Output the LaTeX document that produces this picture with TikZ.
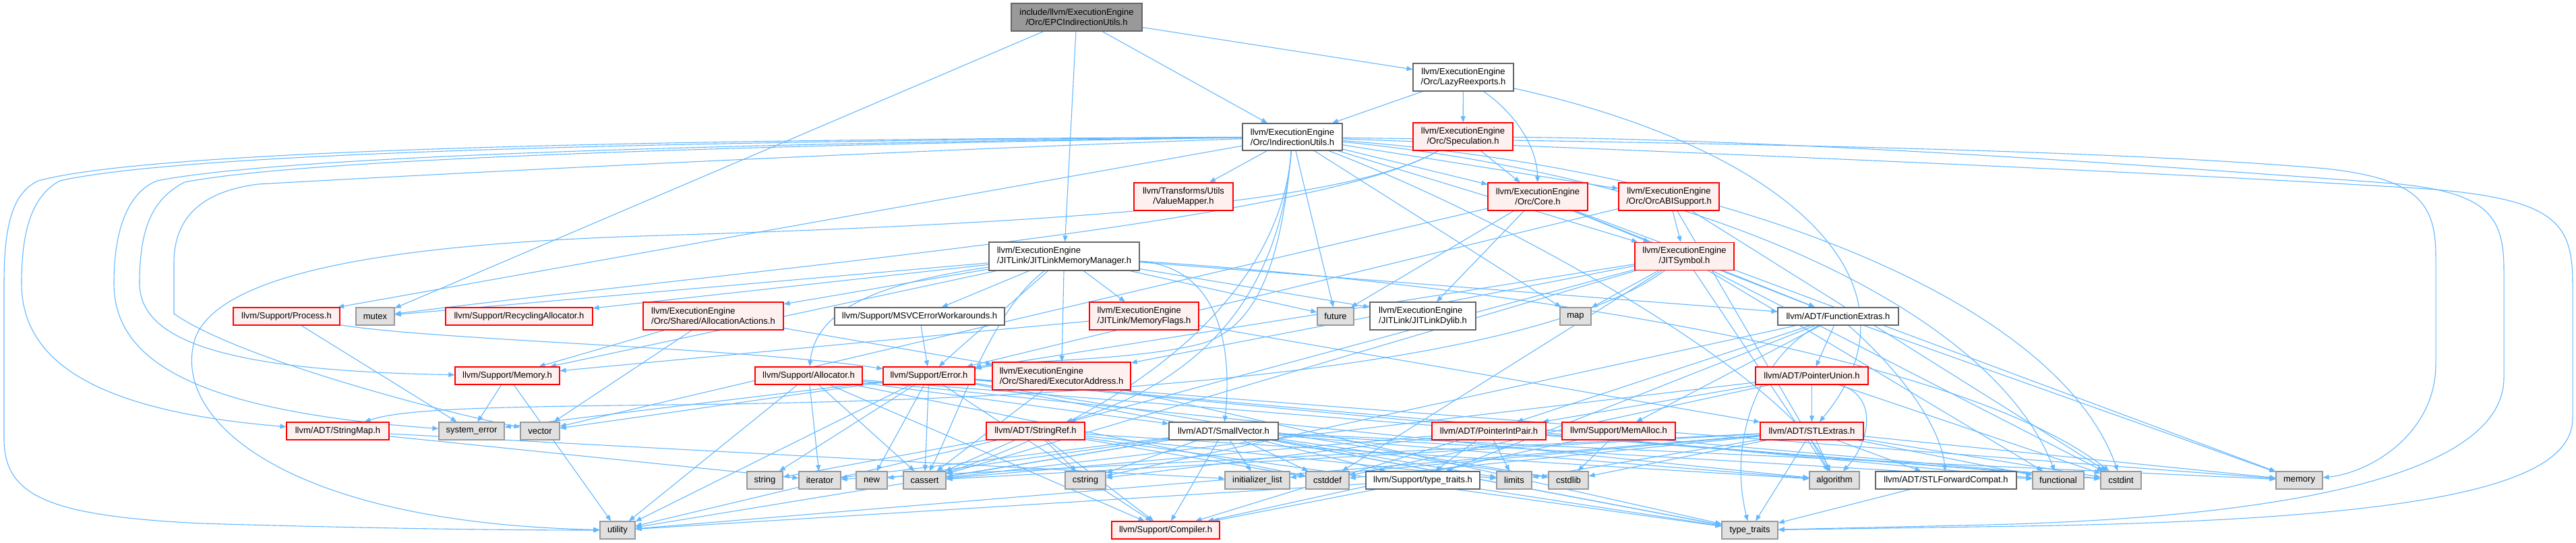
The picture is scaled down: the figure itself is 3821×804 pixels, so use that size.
\documentclass[tikz,border=0pt]{standalone}
\usepackage{fontspec}
\setmainfont{Liberation Sans}
\usetikzlibrary{arrows.meta}
\pgfdeclarelayer{bg}
\pgfdeclarelayer{edges}
\pgfsetlayers{bg,edges,main}
\definecolor{edgec}{HTML}{63B8FF}
\definecolor{redfill}{HTML}{FFF0F0}
\definecolor{sysfill}{HTML}{E0E0E0}
\definecolor{sysdraw}{HTML}{999999}
\definecolor{wdraw}{HTML}{666666}
\definecolor{rootfill}{HTML}{999999}
\definecolor{redline}{HTML}{FF0000}
\newcommand{\dxfont}{\fontsize{13}{15}\selectfont}
\begin{document}
\begin{tikzpicture}[x=1pt,y=-1pt,
  box/.style={rectangle, line width=1.2pt, inner sep=0pt, font=\dxfont, text=black, align=center},
  gbox/.style={box, fill=sysfill, draw=sysdraw},
  rbox/.style={box, fill=redfill, draw=redline},
  wbox/.style={box, fill=white, draw=wdraw},
  rootbox/.style={box, fill=rootfill, draw=wdraw},
  sz/.style 2 args={minimum width=#1pt, minimum height=#2pt},
  e/.style={draw=edgec, line width=1.1pt, -{Triangle[length=9pt,width=7pt]}},
]
\begin{pgfonlayer}{bg}
\fill[white] (0,0) rectangle (3821,804);
\end{pgfonlayer}
\useasboundingbox (0,0) rectangle (3821,804);

% ---------- nodes ----------
\node[rootbox, sz={194}{41}] (root) at (1597,25.5) {include/llvm/ExecutionEngine\\/Orc/EPCIndirectionUtils.h};
\node[wbox, sz={149}{41}] (lazy) at (2170.5,114.5) {llvm/ExecutionEngine\\/Orc/LazyReexports.h};
\node[wbox, sz={148}{40}] (indir) at (1917,203) {llvm/ExecutionEngine\\/Orc/IndirectionUtils.h};
\node[rbox, sz={148}{41}] (spec) at (2170,202.5) {llvm/ExecutionEngine\\/Orc/Speculation.h};
\node[rbox, sz={147}{41}] (valmap) at (1755.5,291.5) {llvm/Transforms/Utils\\/ValueMapper.h};
\node[rbox, sz={148}{41}] (core) at (2281,291.5) {llvm/ExecutionEngine\\/Orc/Core.h};
\node[rbox, sz={149}{41}] (orcabi) at (2475.5,291.5) {llvm/ExecutionEngine\\/Orc/OrcABISupport.h};
\node[wbox, sz={223}{42}, align=left] (jitlmm) at (1578.5,380) {llvm/ExecutionEngine\\/JITLink/JITLinkMemoryManager.h};
\node[rbox, sz={147}{41}] (jitsym) at (2498.5,380) {llvm/ExecutionEngine\\/JITSymbol.h};

\node[rbox, sz={158}{26}] (process) at (425,469) {llvm/Support/Process.h};
\node[gbox, sz={57}{26}] (mutex) at (556.5,469) {mutex};
\node[rbox, sz={218}{26}] (recyc) at (770,469) {llvm/Support/RecyclingAllocator.h};
\node[rbox, sz={208}{41}, align=left] (allocact) at (1058,468.5) {llvm/ExecutionEngine\\/Orc/Shared/AllocationActions.h};
\node[wbox, sz={252}{26}] (msvc) at (1364,469) {llvm/Support/MSVCErrorWorkarounds.h};
\node[rbox, sz={162}{41}, align=left] (memflags) at (1697,468.5) {llvm/ExecutionEngine\\/JITLink/MemoryFlags.h};
\node[gbox, sz={54}{26}] (future) at (1981,469) {future};
\node[wbox, sz={157}{41}, align=left] (jldylib) at (2110.5,468.5) {llvm/ExecutionEngine\\/JITLink/JITLinkDylib.h};
\node[gbox, sz={46}{26}] (map) at (2337,469) {map};
\node[wbox, sz={179}{26}] (funcext) at (2726.5,469) {llvm/ADT/FunctionExtras.h};

\node[rbox, sz={155}{26}] (memoryh) at (752.5,557) {llvm/Support/Memory.h};
\node[rbox, sz={159}{26}] (alloc) at (1199.5,557) {llvm/Support/Allocator.h};
\node[rbox, sz={136}{26}] (error) at (1378,557) {llvm/Support/Error.h};
\node[rbox, sz={205}{41}, align=left] (execaddr) at (1574.5,557.5) {llvm/ExecutionEngine\\/Orc/Shared/ExecutorAddress.h};
\node[rbox, sz={167}{26}] (ptrunion) at (2687.5,557) {llvm/ADT/PointerUnion.h};

\node[rbox, sz={152}{26}] (strmap) at (501,639) {llvm/ADT/StringMap.h};
\node[gbox, sz={97}{26}] (syserr) at (699.5,639) {system\_error};
\node[gbox, sz={58}{26}] (vector) at (801,639) {vector};
\node[rbox, sz={146}{26}] (strref) at (1536,639) {llvm/ADT/StringRef.h};
\node[wbox, sz={162}{26}] (smallvec) at (1815,639) {llvm/ADT/SmallVector.h};
\node[rbox, sz={169}{26}] (ptrint) at (2208.5,639) {llvm/ADT/PointerIntPair.h};
\node[rbox, sz={168}{26}] (memalloc) at (2401,639) {llvm/Support/MemAlloc.h};
\node[rbox, sz={153}{26}] (stlext) at (2687.5,639) {llvm/ADT/STLExtras.h};

\node[gbox, sz={53}{26}] (string) at (1134.5,712) {string};
\node[gbox, sz={62}{26}] (iterator) at (1216,712) {iterator};
\node[gbox, sz={46}{26}] (new) at (1293,712) {new};
\node[gbox, sz={63}{26}] (cassert) at (1371.5,712) {cassert};
\node[gbox, sz={60}{26}] (cstring) at (1610,712) {cstring};
\node[gbox, sz={96}{26}] (initlist) at (1865,712) {initializer\_list};
\node[gbox, sz={64}{26}] (cstddef) at (1969,712) {cstddef};
\node[wbox, sz={169}{26}] (typetrh) at (2110.5,712) {llvm/Support/type\_traits.h};
\node[gbox, sz={52}{26}] (limits) at (2246,712) {limits};
\node[gbox, sz={59}{26}] (cstdlib) at (2326.5,712) {cstdlib};
\node[gbox, sz={74}{26}] (algorithm) at (2721,712) {algorithm};
\node[wbox, sz={209}{26}] (stlfwd) at (2886.5,712) {llvm/ADT/STLForwardCompat.h};
\node[gbox, sz={76}{26}] (functional) at (3053,712) {functional};
\node[gbox, sz={60}{26}] (cstdint) at (3146,712) {cstdint};
\node[gbox, sz={69}{26}] (memory) at (3410.5,712) {memory};

\node[gbox, sz={52}{26}] (utility) at (916,786) {utility};
\node[rbox, sz={160}{26}] (compiler) at (1729,786) {llvm/Support/Compiler.h};
\node[gbox, sz={83}{26}] (typetr) at (2595.5,786) {type\_traits};

% ---------- edges ----------
\begin{pgfonlayer}{edges}
% root
\draw[e] (root) -- (jitlmm);
\draw[e] (root) -- (indir);
\draw[e] (root) -- (lazy);
\draw[e] (root) -- (mutex);
% LazyReexports
\draw[e] (lazy) -- (indir);
\draw[e] (lazy) -- (spec);
\draw[e] (lazy) .. controls (2250,170) and (2280,220) .. (core);
\draw[e] (lazy) .. controls (2650,220) and (2870,420) .. (stlext);
% IndirectionUtils
\draw[e] (indir) -- (valmap);
\draw[e] (indir) -- (core);
\draw[e] (indir) -- (orcabi);
\draw[e] (indir) -- (jitsym);
\draw[e] (indir) -- (future);
\draw[e] (indir) -- (map);
\draw[e] (indir) .. controls (2250,330) and (2650,560) .. (algorithm);
\draw[e] (indir) .. controls (1900,430) and (1700,600) .. (cassert);
\draw[e] (indir) .. controls (1900,420) and (1800,560) .. (strref);
\draw[e] (indir) -- (process);
\draw[e] (indir) .. controls (2500,260) and (2950,450) .. (functional);
\draw[e] (indir) .. controls (2550,250) and (3050,440) .. (cstdint);
\draw[e] (indir) .. controls (1900,400) and (1860,488) .. (1780,510) .. controls (1680,535) and (1500,535) .. (error);
\draw[e] (indir) .. controls (1200,206) and (250,215) .. (57,268) .. controls (20,285) and (6,330) .. (6,420) -- (6,650) .. controls (6,735) and (70,765) .. (300,776) .. controls (600,785) and (800,786) .. (utility);
\draw[e] (indir) .. controls (1200,208) and (300,220) .. (89,268) .. controls (48,290) and (32,340) .. (32,420) .. controls (32,540) and (150,610) .. (strmap);
\draw[e] (indir) .. controls (1300,210) and (450,225) .. (233,268) .. controls (190,285) and (169,340) .. (169,420) .. controls (169,540) and (300,610) .. (syserr);
\draw[e] (indir) .. controls (1300,212) and (480,230) .. (274,270) .. controls (225,295) and (207,340) .. (207,420) .. controls (207,510) and (350,550) .. (memoryh);
\draw[e] (indir) .. controls (1300,225) and (700,255) .. (383,273) .. controls (290,285) and (258,330) .. (258,390) -- (258,465) .. controls (350,530) and (650,610) .. (vector);
\draw[e] (indir) .. controls (2500,212) and (3100,220) .. (3450,250) .. controls (3585,265) and (3613,300) .. (3613,380) -- (3613,540) .. controls (3613,640) and (3520,700) .. (memory);
\draw[e] (indir) .. controls (2500,225) and (3200,255) .. (3600,280) .. controls (3790,295) and (3816,330) .. (3816,420) -- (3816,620) .. controls (3816,720) and (3600,770) .. (3000,780) -- (typetr);
% Speculation
\draw[e] (spec) -- (core);
\draw[e] (spec) .. controls (1950,330) and (1100,400) .. (mutex);
\draw[e] (spec) .. controls (2000,300) and (1600,330) .. (950,350) .. controls (600,362) and (330,400) .. (290,500) .. controls (250,620) and (420,775) .. (utility);
\draw[e] (spec) .. controls (2700,208) and (3250,250) .. (3550,272) .. controls (3690,285) and (3714,320) .. (3714,400) -- (3714,560) .. controls (3714,690) and (3450,765) .. (2950,778) -- (typetr);
% JITLinkMemoryManager
\draw[e] (jitlmm) -- (msvc);
\draw[e] (jitlmm) -- (memflags);
\draw[e] (jitlmm) -- (execaddr);
\draw[e] (jitlmm) .. controls (1300,420) and (1210,460) .. (alloc);
\draw[e] (jitlmm) .. controls (1500,450) and (1440,500) .. (error);
\draw[e] (jitlmm) .. controls (1800,395) and (1830,500) .. (smallvec);
\draw[e] (jitlmm) -- (allocact);
\draw[e] (jitlmm) -- (memoryh);
\draw[e] (jitlmm) -- (recyc);
\draw[e] (jitlmm) -- (mutex);
\draw[e] (jitlmm) -- (future);
\draw[e] (jitlmm) -- (jldylib);
\draw[e] (jitlmm) -- (funcext);
\draw[e] (jitlmm) .. controls (1470,460) and (1420,620) .. (cassert);
\draw[e] (jitlmm) .. controls (2200,420) and (2900,520) .. (cstdint);
% JITSymbol
\draw[e] (jitsym) -- (funcext);
\draw[e] (jitsym) -- (map);
\draw[e] (jitsym) .. controls (2250,560) and (1500,595) .. (1000,600) .. controls (750,603) and (600,605) .. (strmap);
\draw[e] (jitsym) -- (strref);
\draw[e] (jitsym) -- (execaddr);
\draw[e] (jitsym) -- (error);
\draw[e] (jitsym) -- (algorithm);
\draw[e] (jitsym) -- (cassert);
\draw[e] (jitsym) -- (cstddef);
\draw[e] (jitsym) -- (cstdint);
\draw[e] (jitsym) -- (functional);
% Core
\draw[e] (core) -- (jitsym);
\draw[e] (core) -- (funcext);
\draw[e] (core) -- (jldylib);
\draw[e] (core) -- (future);
\draw[e] (core) -- (memory);
\draw[e] (core) -- (vector);
% OrcABISupport
\draw[e] (orcabi) -- (jitsym);
\draw[e] (orcabi) -- (error);
\draw[e] (orcabi) -- (algorithm);
\draw[e] (orcabi) -- (cstdint);
% AllocationActions
\draw[e] (allocact) -- (execaddr);
\draw[e] (allocact) -- (memoryh);
\draw[e] (allocact) -- (vector);
% MemoryFlags
\draw[e] (memflags) -- (stlext);
\draw[e] (memflags) -- (memoryh);
% ExecutorAddress
\draw[e] (execaddr) -- (cassert);
\draw[e] (execaddr) -- (typetr);
% Error
\draw[e] (error) -- (compiler);
\draw[e] (error) -- (cassert);
\draw[e] (error) -- (cstdint);
\draw[e] (error) -- (cstdlib);
\draw[e] (error) -- (functional);
\draw[e] (error) -- (memory);
\draw[e] (error) -- (new);
\draw[e] (error) -- (string);
\draw[e] (error) -- (syserr);
\draw[e] (error) -- (typetr);
\draw[e] (error) -- (utility);
\draw[e] (error) -- (vector);
% Allocator
\draw[e] (alloc) -- (smallvec);
\draw[e] (alloc) -- (compiler);
\draw[e] (alloc) -- (algorithm);
\draw[e] (alloc) -- (cassert);
\draw[e] (alloc) -- (cstddef);
\draw[e] (alloc) -- (cstdint);
\draw[e] (alloc) -- (iterator);
\draw[e] (alloc) -- (utility);
% MSVCErrorWorkarounds
\draw[e] (msvc) -- (error);
% Memory
\draw[e] (memoryh) -- (syserr);
\draw[e] (memoryh) -- (utility);
% Process
\draw[e] (process) .. controls (650,505) and (1100,515) .. (error);
\draw[e] (process) -- (syserr);
% StringMap
\draw[e] (strmap) -- (initlist);
\draw[e] (strmap) -- (iterator);
% StringRef
\draw[e] (strref) -- (compiler);
\draw[e] (strref) -- (algorithm);
\draw[e] (strref) -- (cassert);
\draw[e] (strref) -- (cstddef);
\draw[e] (strref) -- (cstring);
\draw[e] (strref) -- (limits);
\draw[e] (strref) -- (string);
\draw[e] (strref) -- (typetr);
\draw[e] (strref) -- (utility);
% SmallVector
\draw[e] (smallvec) -- (compiler);
\draw[e] (smallvec) -- (typetrh);
\draw[e] (smallvec) -- (algorithm);
\draw[e] (smallvec) -- (cassert);
\draw[e] (smallvec) -- (cstddef);
\draw[e] (smallvec) -- (cstdlib);
\draw[e] (smallvec) -- (cstring);
\draw[e] (smallvec) -- (functional);
\draw[e] (smallvec) -- (initlist);
\draw[e] (smallvec) -- (iterator);
\draw[e] (smallvec) -- (limits);
\draw[e] (smallvec) -- (memory);
\draw[e] (smallvec) -- (new);
\draw[e] (smallvec) -- (typetr);
\draw[e] (smallvec) -- (utility);
% FunctionExtras
\draw[e] (funcext) -- (ptrint);
\draw[e] (funcext) -- (ptrunion);
\draw[e] (funcext) .. controls (2830,560) and (2880,640) .. (stlfwd);
\draw[e] (funcext) -- (memalloc);
\draw[e] (funcext) -- (typetrh);
\draw[e] (funcext) -- (cstring);
\draw[e] (funcext) -- (memory);
\draw[e] (funcext) .. controls (2620,520) and (2560,640) .. (typetr);
% PointerUnion
\draw[e] (ptrunion) -- (ptrint);
\draw[e] (ptrunion) -- (stlext);
\draw[e] (ptrunion) .. controls (2790,590) and (2770,660) .. (algorithm);
\draw[e] (ptrunion) -- (cassert);
\draw[e] (ptrunion) -- (cstddef);
\draw[e] (ptrunion) -- (cstdint);
% PointerIntPair
\draw[e] (ptrint) -- (compiler);
\draw[e] (ptrint) -- (typetrh);
\draw[e] (ptrint) -- (cassert);
\draw[e] (ptrint) -- (cstdint);
\draw[e] (ptrint) -- (cstring);
\draw[e] (ptrint) -- (limits);
% MemAlloc
\draw[e] (memalloc) -- (compiler);
\draw[e] (memalloc) -- (cstdlib);
% STLExtras
\draw[e] (stlext) -- (stlfwd);
\draw[e] (stlext) -- (algorithm);
\draw[e] (stlext) -- (cassert);
\draw[e] (stlext) -- (cstddef);
\draw[e] (stlext) -- (cstdint);
\draw[e] (stlext) -- (cstdlib);
\draw[e] (stlext) -- (functional);
\draw[e] (stlext) -- (initlist);
\draw[e] (stlext) -- (iterator);
\draw[e] (stlext) -- (limits);
\draw[e] (stlext) -- (memory);
\draw[e] (stlext) -- (typetr);
\draw[e] (stlext) -- (utility);
% type_traits.h
\draw[e] (typetrh) -- (compiler);
\draw[e] (typetrh) -- (typetr);
\draw[e] (typetrh) -- (utility);
% STLForwardCompat
\draw[e] (stlfwd) -- (typetr);
\end{pgfonlayer}
\end{tikzpicture}
\end{document}
